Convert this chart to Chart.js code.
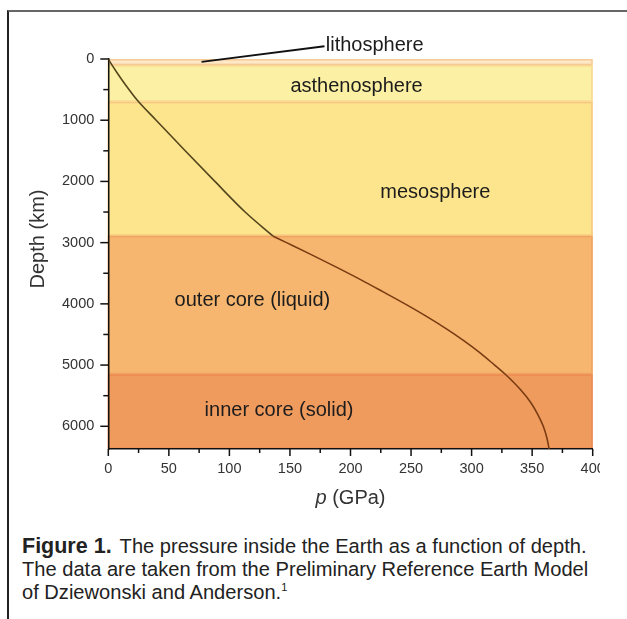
<!DOCTYPE html>
<html>
<head>
<meta charset="utf-8">
<script src="https://cdn.jsdelivr.net/npm/chart.js@4.4.1/dist/chart.umd.min.js"></script>
<style>
  body { margin: 0; background: #fff; width: 627px; height: 619px; overflow: hidden; position: relative;
         font-family: "Liberation Sans", Arial, sans-serif; }
  #frame { position: absolute; left: 7px; top: 10px; right: 0; bottom: 0;
           border-left: 2px solid #222; border-top: 2px solid #666; }
  #wrap { position: absolute; left: 0; top: 0; width: 600px; height: 520px; }
  #caption { position: absolute; left: 22px; top: 535px; font-size: 20.1px; line-height: 23px; color: #222; }
  #caption b { font-size: 21.5px; margin-right: 8px; }
  #caption sup { font-size: 11px; vertical-align: 8px; line-height: 0; }
</style>
</head>
<body>
<div id="frame"></div>
<div id="wrap"><canvas id="chart"></canvas></div>
<div id="caption"><b>Figure 1.</b>The pressure inside the Earth as a function of depth.<br>The data are taken from the Preliminary Reference Earth Model<br>of Dziewonski and Anderson.<sup>1</sup></div>
<script>
// PREM pressure profile
const depthKm = [0, 100, 220, 400, 670, 1000, 1500, 2000, 2500, 2891,
  3000, 3200, 3400, 3600, 3800, 4000, 4200, 4400, 4600, 4800, 5000, 5150,
  5400, 5600, 5800, 6000, 6200, 6371];
const pressureGPa = [0, 3.1, 7.1, 13.4, 23.8, 39.5, 63.5, 88, 113, 135.8,
  147.2, 168, 188.3, 207.9, 226.6, 245, 262.4, 278.6, 293.5, 307, 319, 327.8,
  340.3, 348.4, 354.5, 359.2, 362.3, 364];
const CMB_INDEX = 9;

const layerNames = ["lithosphere", "asthenosphere", "mesosphere", "outer core (liquid)", "inner core (solid)"];
const layerTopKm = [0, 100, 700, 2890, 5150];
const layerBottomKm = [100, 700, 2890, 5150, 6371];

const pressureTicks = [0, 50, 100, 150, 200, 250, 300, 350, 400];
const pressureMinor = [25, 75, 125, 175, 225, 275, 325, 375];
const depthTicks = [0, 1000, 2000, 3000, 4000, 5000, 6000];
const depthMinor = [500, 1500, 2500, 3500, 4500, 5500];

// styles
const LAYER_FILL = ["#fde9c8", "#fbf0a3", "#fde58e", "#f6b66f", "#f09b5e"];
const LAYER_EDGE = ["#f8c996", "#f8d890", "#f7c680", "#f0a462", "#ec8a52"];
const LABEL_POS = [null, [205, 444], [270, 2175], [119, 3939], [141, 5735]];
const FONT = '"Liberation Sans", Arial, sans-serif';

const pts = depthKm.map((d, i) => ({ x: pressureGPa[i], y: d }));

const figurePlugin = {
  id: "figure",
  beforeDraw(chart) {
    const { ctx, scales: { x, y } } = chart;
    const xl = x.getPixelForValue(0), xr = x.getPixelForValue(400);
    ctx.save();
    layerTopKm.forEach((top, i) => {
      const y0 = y.getPixelForValue(top), y1 = y.getPixelForValue(layerBottomKm[i]);
      ctx.fillStyle = LAYER_FILL[i];
      ctx.fillRect(xl, y0, xr - xl, y1 - y0);
      ctx.strokeStyle = LAYER_EDGE[i];
      ctx.lineWidth = 1.5;
      ctx.strokeRect(xl, y0 + 0.75, xr - xl - 0.75, y1 - y0 - 1.5);
    });
    ctx.restore();
  },
  afterDatasetsDraw(chart) {
    const { ctx, scales: { x, y } } = chart;
    ctx.save();
    // tick marks
    ctx.strokeStyle = "#111";
    ctx.lineWidth = 1.5;
    const yb = y.getPixelForValue(6371), xa = x.getPixelForValue(0);
    const tick = (x0, y0, x1, y1) => { ctx.beginPath(); ctx.moveTo(x0, y0); ctx.lineTo(x1, y1); ctx.stroke(); };
    pressureTicks.forEach(v => { const px = x.getPixelForValue(v); tick(px, yb, px, yb + 7); });
    pressureMinor.forEach(v => { const px = x.getPixelForValue(v); tick(px, yb, px, yb + 4); });
    depthTicks.forEach(v => { const py = y.getPixelForValue(v); tick(xa, py, xa - 8, py); });
    depthMinor.forEach(v => { const py = y.getPixelForValue(v); tick(xa, py, xa - 5, py); });

    // layer labels
    ctx.fillStyle = "#1c1c1c";
    ctx.font = "20px " + FONT;
    ctx.textAlign = "center";
    ctx.textBaseline = "middle";
    LABEL_POS.forEach((p, i) => {
      if (!p) return;
      ctx.fillText(layerNames[i], x.getPixelForValue(p[0]), y.getPixelForValue(p[1]));
    });
    // lithosphere callout
    ctx.strokeStyle = "#111";
    ctx.lineWidth = 2;
    tick(x.getPixelForValue(77), y.getPixelForValue(47), x.getPixelForValue(178.5), y.getPixelForValue(-209));
    ctx.textAlign = "left";
    ctx.fillText(layerNames[0], x.getPixelForValue(179.6), y.getPixelForValue(-225));

    // axis titles
    ctx.fillStyle = "#333";
    ctx.save();
    ctx.translate(38, 239);
    ctx.rotate(-Math.PI / 2);
    ctx.textAlign = "center";
    ctx.fillText("Depth (km)", 0, 0);
    ctx.restore();
    const cx = (x.left + x.right) / 2;
    const rest = " (GPa)";
    ctx.font = "italic 20px " + FONT;
    const wp = ctx.measureText("p").width;
    ctx.font = "20px " + FONT;
    const wr = ctx.measureText(rest).width;
    const sx = cx - (wp + wr) / 2;
    ctx.textAlign = "left";
    ctx.font = "italic 20px " + FONT;
    ctx.fillText("p", sx, 498);
    ctx.font = "20px " + FONT;
    ctx.fillText(rest, sx + wp, 498);
    ctx.restore();
  }
};

new Chart(document.getElementById("chart"), {
  type: "scatter",
  data: {
    datasets: [
      {
        data: pts.slice(0, CMB_INDEX + 1),
        showLine: true,
        borderColor: "#54461c",
        borderWidth: 1.6,
        pointRadius: 0,
        cubicInterpolationMode: "monotone",
      },
      {
        data: pts.slice(CMB_INDEX),
        showLine: true,
        borderColor: "#7a3c12",
        borderWidth: 1.6,
        pointRadius: 0,
        cubicInterpolationMode: "monotone",
      },
    ],
  },
  options: {
    responsive: true,
    maintainAspectRatio: false,
    animation: false,
    layout: { padding: { left: 0, top: 59, right: 7.3, bottom: 0 } },
    plugins: { legend: { display: false }, tooltip: { enabled: false } },
    scales: {
      x: {
        type: "linear",
        min: 0,
        max: 400,
        afterBuildTicks: (s) => { s.ticks = pressureTicks.map(v => ({ value: v })); },
        afterFit: (s) => { s.height = 71; s.paddingLeft = 0; s.paddingRight = 0; },
        grid: { display: false, drawTicks: false },
        border: { display: true, color: "#111", width: 1.5 },
        ticks: { color: "#333", padding: 11, maxRotation: 0, font: { size: 14.5, family: FONT },
                 callback: (v) => String(v) },
      },
      y: {
        type: "linear",
        reverse: true,
        min: 0,
        max: 6371,
        afterBuildTicks: (s) => { s.ticks = depthTicks.map(v => ({ value: v })); },
        afterFit: (s) => { s.width = 108.3; },
        grid: { display: false, drawTicks: false },
        border: { display: true, color: "#111", width: 1.5 },
        ticks: { color: "#333", padding: 14, font: { size: 14.5, family: FONT },
                 callback: (v) => String(v) },
      },
    },
  },
  plugins: [figurePlugin],
});
</script>
</body>
</html>
